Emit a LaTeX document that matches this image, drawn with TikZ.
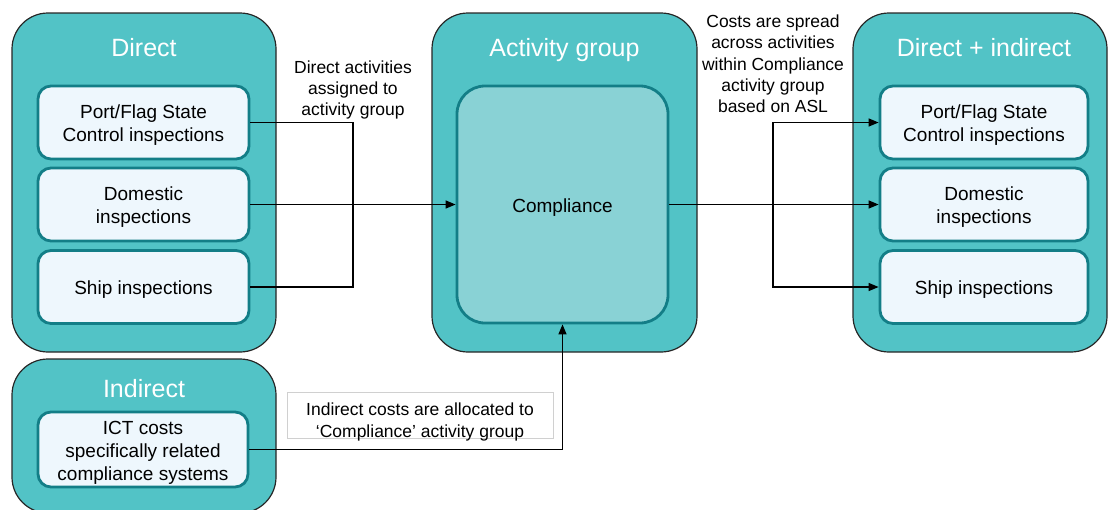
\documentclass[tikz,border=0pt]{standalone}
\usepackage{fontspec}
\setmainfont{Liberation Sans}
\usetikzlibrary{arrows.meta}
\definecolor{teal1}{HTML}{52C3C6}
\definecolor{tealdark}{HTML}{137E87}
\definecolor{lightbox}{HTML}{EEF7FD}
\definecolor{compfill}{HTML}{89D2D5}
\definecolor{lblborder}{HTML}{D0D0D0}
\newcommand{\myTopStrut}{\rule{0pt}{19.7pt}}
\begin{document}
\begin{tikzpicture}[x=1pt,y=-1pt,
  outerbox/.style={draw=black!85,line width=1.2pt,fill=teal1,rounded corners=36pt,inner sep=0pt},
  itembox/.style={draw=tealdark,line width=2.8pt,fill=lightbox,rounded corners=13pt,minimum height=73pt,inner sep=0pt,align=center,font=\fontsize{19}{23}\selectfont},
  compbox/.style={draw=tealdark,line width=2.8pt,fill=compfill,rounded corners=28pt,inner sep=0pt,align=center,font=\fontsize{19}{23}\selectfont},
  titletext/.style={text=white,anchor=base,font=\fontsize{25}{30}\selectfont},
  lbl/.style={align=center,font=\fontsize{17.5}{21.3}\selectfont},
  lblbox/.style={draw=lblborder,line width=0.8pt,fill=white,align=center,inner sep=0pt,font=\fontsize{17.5}{22}\selectfont},
  conn/.style={line width=1.3pt},
  arr/.style={line width=1.3pt,-{Triangle[length=10pt,width=8pt]}}
]
\useasboundingbox (0,0) rectangle (1108,509);

% outer boxes
\node[outerbox,minimum width=264pt,minimum height=339pt] (dirO) at (144,182.5) {};
\node[outerbox,minimum width=265pt,minimum height=339pt] (actO) at (564.5,182.5) {};
\node[outerbox,minimum width=254pt,minimum height=339pt] (diO) at (980,182.5) {};
\node[outerbox,minimum width=264pt,minimum height=154pt] (indO) at (144,436) {};

% titles
\node[titletext] (dirT) at (144,56) {Direct};
\node[titletext] (actT) at (564.5,56) {Activity group};
\node[titletext] (diT) at (984,56) {Direct + indirect};
\node[titletext] (indT) at (144,397) {Indirect};

% left items
\node[itembox,minimum width=211pt] (p1) at (143.5,122.5) {\myTopStrut Port/Flag State\\Control inspections};
\node[itembox,minimum width=211pt] (d1) at (143.5,204.5) {\myTopStrut Domestic\\inspections};
\node[itembox,minimum width=211pt] (s1) at (143.5,287) {\myTopStrut Ship inspections};

% right items
\node[itembox,minimum width=208pt] (p2) at (984,122.5) {\myTopStrut Port/Flag State\\Control inspections};
\node[itembox,minimum width=208pt] (d2) at (984,204.5) {\myTopStrut Domestic\\inspections};
\node[itembox,minimum width=208pt] (s2) at (984,287) {\myTopStrut Ship inspections};

% indirect item
\node[itembox,minimum width=210pt,minimum height=75pt] (ict) at (143,449.5) {\myTopStrut ICT costs\\specifically related\\compliance systems};

% compliance
\node[compbox,minimum width=211pt,minimum height=237pt] (comp) at (562.5,204.5) {\myTopStrut Compliance};

% labels
\node[lbl] (lblL) at (353,90) {Direct activities\\assigned to\\activity group};
\node[lbl] (lblR) at (773,64) {Costs are spread\\across activities\\within Compliance\\activity group\\based on ASL};
\node[lblbox,minimum width=266pt,minimum height=46pt] (lblI) at (420,415) {\rule{0pt}{23.3pt}Indirect costs are allocated to\\\raisebox{0pt}[\height][0pt]{`Compliance' activity group}};

% junctions
\coordinate (jL) at (353,204.5);
\coordinate (jR) at (773,204.5);

% connectors
\draw[conn] (p1.east) -| (jL);
\draw[conn] (s1.east) -| (jL);
\draw[arr] (d1.east) -- (comp.west);
\draw[arr] (comp.east) -- (d2.west);
\draw[arr] (jR) |- (p2.west);
\draw[arr] (jR) |- (s2.west);
\draw[arr] (ict.east) -| (comp.south);
\end{tikzpicture}
\end{document}
